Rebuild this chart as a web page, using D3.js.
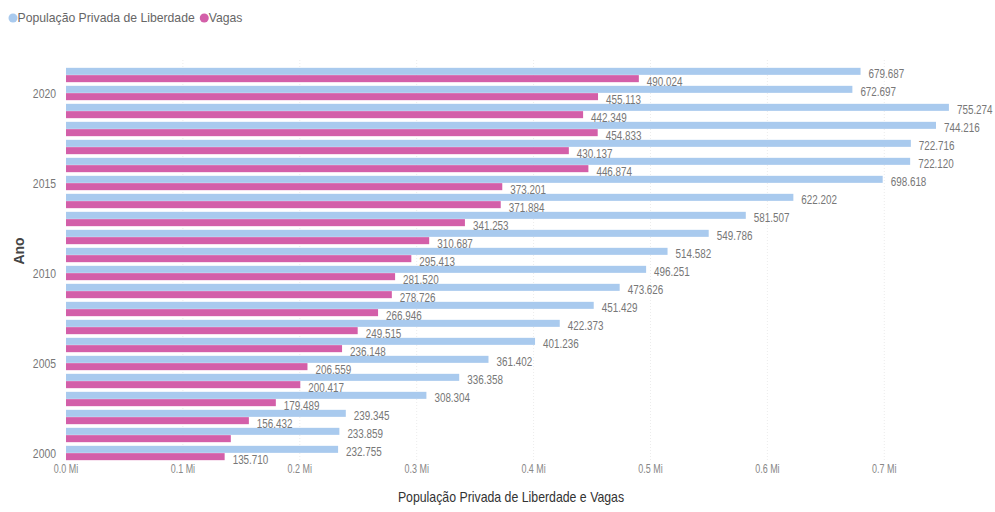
<!DOCTYPE html>
<html><head><meta charset="utf-8">
<script src="https://cdn.jsdelivr.net/npm/d3@7"></script>
<style>
body{margin:0;background:#fff;}
text{font-family:"Liberation Sans",Arial,sans-serif;}
</style></head>
<body><svg id="c" width="995" height="512"></svg>
<script>
const years = [2021,2020,2019,2018,2017,2016,2015,2014,2013,2012,2011,2010,2009,2008,2007,2006,2005,2004,2003,2002,2001,2000];
const populacao = [679687,672697,755274,744216,722716,722120,698618,622202,581507,549786,514582,496251,473626,451429,422373,401236,361402,336358,308304,239345,233859,232755];
const vagas = [490024,455113,442349,454833,430137,446874,373201,371884,341253,310687,295413,281520,278726,266946,249515,236148,206559,200417,179489,156432,141000,135710];
const seriesNames = ["População Privada de Liberdade","Vagas"];
const seriesColors = ["#a9caee","#d35fa9"];
const yTickYears = [2020,2015,2010,2005,2000];
const xTickValues = [0,100000,200000,300000,400000,500000,600000,700000];
const xTickLabels = ["0.0 Mi","0.1 Mi","0.2 Mi","0.3 Mi","0.4 Mi","0.5 Mi","0.6 Mi","0.7 Mi"];
const hiddenLabels = ["2001-Vagas"];

const svg = d3.select("#c");
const locale = d3.formatLocale({decimal:",",thousands:".",grouping:[3],currency:["R$",""]});
const fmt = locale.format(",d");

// condensed text helper
function ctext(parent, px, py, str, o){
  const t = parent.append("text")
    .attr("transform",`translate(${px},${py}) scale(${o.sx||1},1)`)
    .attr("text-anchor",o.anchor||"start").attr("dominant-baseline","central")
    .attr("font-size",o.size).attr("fill",o.fill).text(str);
  if(o.weight) t.attr("font-weight",o.weight);
  return t;
}

const x = d3.scaleLinear().domain([0,760000]).range([66,66+116.9*7.6]);
const y = d3.scaleBand().domain(years).range([66,462]).padding(0);
const ySub = d3.scaleBand().domain([0,1]).range([0,y.bandwidth()]).paddingInner(0.04).paddingOuter(0.25);

// gridlines
svg.append("g").selectAll("line").data(xTickValues.slice(1)).join("line")
  .attr("x1",d=>x(d)).attr("x2",d=>x(d)).attr("y1",60).attr("y2",462)
  .attr("stroke","#ececec").attr("stroke-dasharray","1,2");

const rows = years.map((yr,i)=>({year:yr, vals:[populacao[i],vagas[i]]}));
const g = svg.append("g");
rows.forEach(r=>{
  r.vals.forEach((v,k)=>{
    g.append("rect").attr("x",x(0)).attr("y",y(r.year)+ySub(k))
      .attr("width",x(v)-x(0)).attr("height",ySub.bandwidth()).attr("fill",seriesColors[k]);
  });
});
rows.forEach(r=>{
  r.vals.forEach((v,k)=>{
    if(hiddenLabels.includes(r.year+"-"+seriesNames[k])) return;
    ctext(g, x(v)+8, y(r.year)+ySub(k)+ySub.bandwidth()/2+2.5, fmt(v), {size:13, sx:0.76, fill:"#777"});
  });
});

// y axis ticks
const yt = svg.append("g");
yTickYears.forEach(d=>ctext(yt, 56, y(d)+y.bandwidth()/2, d, {size:13, sx:0.8, fill:"#777", anchor:"end"}));
// x axis ticks
const xt = svg.append("g");
xTickValues.forEach((d,i)=>ctext(xt, x(d), 468, xTickLabels[i], {size:13, sx:0.69, fill:"#888", anchor:"middle"}));

// axis titles
svg.append("text").attr("transform","translate(19,251) rotate(-90)").attr("text-anchor","middle")
  .attr("dominant-baseline","central").attr("font-size",14).attr("font-weight","bold").attr("fill","#444")
  .text("Ano");
ctext(svg, 511, 497, "População Privada de Liberdade e Vagas", {size:14, sx:0.88, fill:"#333", anchor:"middle"});

// legend
const leg = svg.append("g");
let lx = 13;
seriesNames.forEach((n,k)=>{
  leg.append("circle").attr("cx",lx).attr("cy",18).attr("r",4.5).attr("fill",seriesColors[k]);
  const t = ctext(leg, lx+4.5, 18, n, {size:13, sx:0.94, fill:"#666"});
  lx += 4.5 + t.node().getComputedTextLength()*0.94 + 9.5;
});
</script></body></html>
